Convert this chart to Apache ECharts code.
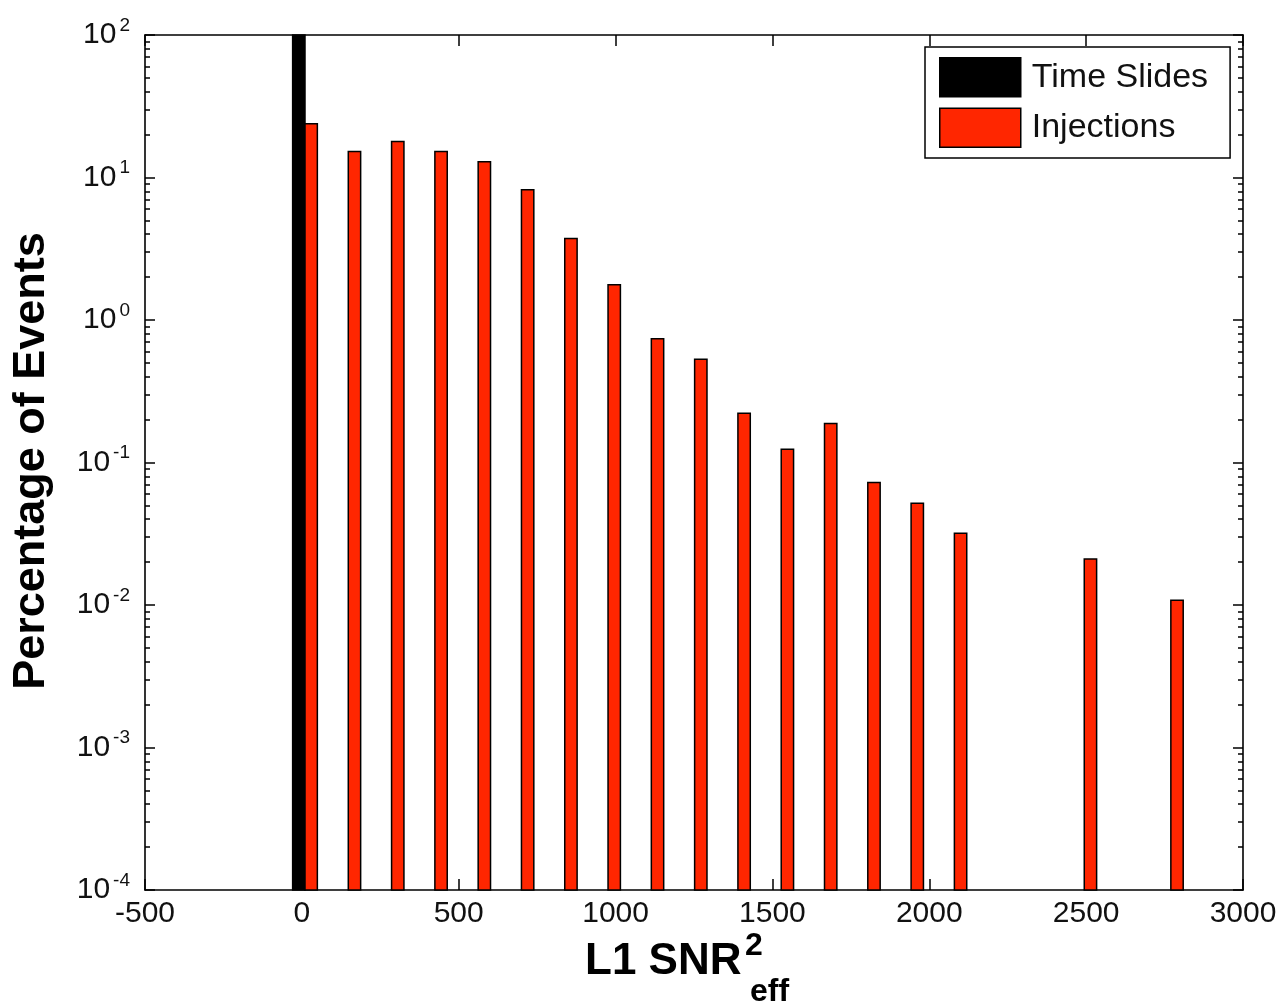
<!DOCTYPE html>
<html><head><meta charset="utf-8">
<script src="https://cdn.jsdelivr.net/npm/echarts@6/dist/echarts.min.js"></script>
<style>html,body{margin:0;padding:0;background:#fff}#c{width:1284px;height:1004px}</style>
</head><body><div id="c"></div>
<script>
// ---- data ----
const binCenters = [10, 148, 286, 424, 562, 700, 838, 976, 1114, 1252, 1390, 1528, 1666, 1804, 1942, 2080, 2218, 2356, 2494, 2632, 2770];
const timeSlides = [100, 0, 0, 0, 0, 0, 0, 0, 0, 0, 0, 0, 0, 0, 0, 0, 0, 0, 0, 0, 0];
const injections = [23.8, 15.2, 17.9, 15.2, 12.9, 8.2, 3.73, 1.77, 0.738, 0.531, 0.222, 0.124, 0.188, 0.0724, 0.0518, 0.0319, 0, 0, 0.0210, 0, 0.0108];
const seriesNames = ['Time Slides', 'Injections'];
const xTickValues = [-500, 0, 500, 1000, 1500, 2000, 2500, 3000];
const yTickValues = [1e-4, 1e-3, 1e-2, 1e-1, 1, 10, 100];
const yTickExps = ['-4', '-3', '-2', '-1', '0', '1', '2'];

// ---- styles ----
const BAR_W = 39.4; // data units per bar
const Y_MIN = 1e-4, Y_MAX = 100;
const RED = '#ff2600';
const FONT = 'Liberation Sans';

function toData(vals) {
  return binCenters.map((x, i) => vals[i] > 0 ? [x, vals[i]] : [x, '-']);
}
function makeRender(side, fill) {
  return function (params, api) {
    const v = api.value(1);
    if (!(v > 0)) return null;
    const x = api.value(0);
    const x0 = side < 0 ? x - BAR_W : x;
    const p0 = api.coord([x0, v]);
    const p1 = api.coord([x0 + BAR_W, Y_MIN]);
    return {
      type: 'rect',
      shape: { x: p0[0], y: p0[1], width: p1[0] - p0[0], height: p1[1] - p0[1] },
      style: { fill: fill, stroke: '#000', lineWidth: 1.5 }
    };
  };
}

const chart = echarts.init(document.getElementById('c'), null, { renderer: 'canvas' });
const axisLine = { show: true, onZero: false, lineStyle: { color: '#000', width: 1.6 } };
const xCommon = {
  type: 'value', min: xTickValues[0], max: xTickValues[xTickValues.length - 1], interval: 500,
  splitLine: { show: false }, axisLine: axisLine,
  axisTick: { show: true, inside: true, length: 11, lineStyle: { color: '#000', width: 1.5 } }
};
const yCommon = {
  type: 'log', logBase: 10, min: Y_MIN, max: Y_MAX, splitNumber: 6,
  splitLine: { show: false }, axisLine: axisLine,
  axisTick: { show: true, inside: true, length: 10, lineStyle: { color: '#000', width: 1.5 } },
  minorTick: { show: true, splitNumber: 9, length: 5, lineStyle: { color: '#000', width: 1.5 } },
  minorSplitLine: { show: false }
};

chart.setOption({
  animation: false,
  backgroundColor: '#fff',
  grid: { left: 145, right: 41, top: 35, bottom: 114, containLabel: false },
  xAxis: [
    Object.assign({}, xCommon, {
      position: 'bottom',
      axisLabel: { show: true, margin: 9, fontSize: 30, fontFamily: FONT, color: '#111',
        formatter: v => String(v) }
    }),
    Object.assign({}, xCommon, { position: 'top', axisLabel: { show: false } })
  ],
  yAxis: [
    Object.assign({}, yCommon, {
      position: 'left',
      axisLabel: {
        show: true, margin: 15, fontFamily: FONT, color: '#111',
        formatter: v => {
          const i = yTickValues.findIndex(t => Math.abs(Math.log10(t) - Math.log10(v)) < 1e-6);
          return i < 0 ? '' : '{b|10}{s|' + yTickExps[i] + '}';
        },
        rich: {
          b: { fontSize: 30, fontFamily: FONT, color: '#111', lineHeight: 38 },
          s: { fontSize: 19, fontFamily: FONT, color: '#111', lineHeight: 20, verticalAlign: 'top', padding: [0, 0, 0, 3] }
        }
      }
    }),
    Object.assign({}, yCommon, { position: 'right', axisLabel: { show: false } })
  ],
  legend: {
    orient: 'vertical', left: 925, top: 47,
    backgroundColor: '#fff', borderColor: '#000', borderWidth: 1.5,
    padding: [10, 22, 10, 14], itemGap: 10, itemWidth: 81, itemHeight: 39,
    icon: 'rect',
    textStyle: { fontSize: 34, fontFamily: FONT, color: '#111', padding: [0, 0, 0, 6] },
    data: [
      { name: seriesNames[0], itemStyle: { color: '#000', borderColor: '#000', borderWidth: 1.5 } },
      { name: seriesNames[1], itemStyle: { color: RED, borderColor: '#000', borderWidth: 1.5 } }
    ]
  },
  series: [
    { name: seriesNames[0], type: 'custom', xAxisIndex: 0, yAxisIndex: 0,
      itemStyle: { color: '#000' }, renderItem: makeRender(-1, '#000'),
      encode: { x: 0, y: 1 }, data: toData(timeSlides) },
    { name: seriesNames[1], type: 'custom', xAxisIndex: 0, yAxisIndex: 0,
      itemStyle: { color: RED }, renderItem: makeRender(1, RED),
      encode: { x: 0, y: 1 }, data: toData(injections) }
  ],
  graphic: [
    { type: 'text', x: 32, y: 461, rotation: Math.PI / 2,
      style: { text: 'Percentage of Events', font: 'bold 45px "Liberation Sans"', fill: '#000',
        textAlign: 'center', textVerticalAlign: 'middle' } },
    { type: 'text', x: 585, y: 962,
      style: { text: 'L1 SNR', font: 'bold 44px "Liberation Sans"', fill: '#000',
        textAlign: 'left', textVerticalAlign: 'middle' } },
    { type: 'text', x: 745, y: 946,
      style: { text: '2', font: 'bold 32px "Liberation Sans"', fill: '#000',
        textAlign: 'left', textVerticalAlign: 'middle' } },
    { type: 'text', x: 750, y: 992,
      style: { text: 'eff', font: 'bold 32px "Liberation Sans"', fill: '#000',
        textAlign: 'left', textVerticalAlign: 'middle' } }
  ]
});
</script>
</body></html>
